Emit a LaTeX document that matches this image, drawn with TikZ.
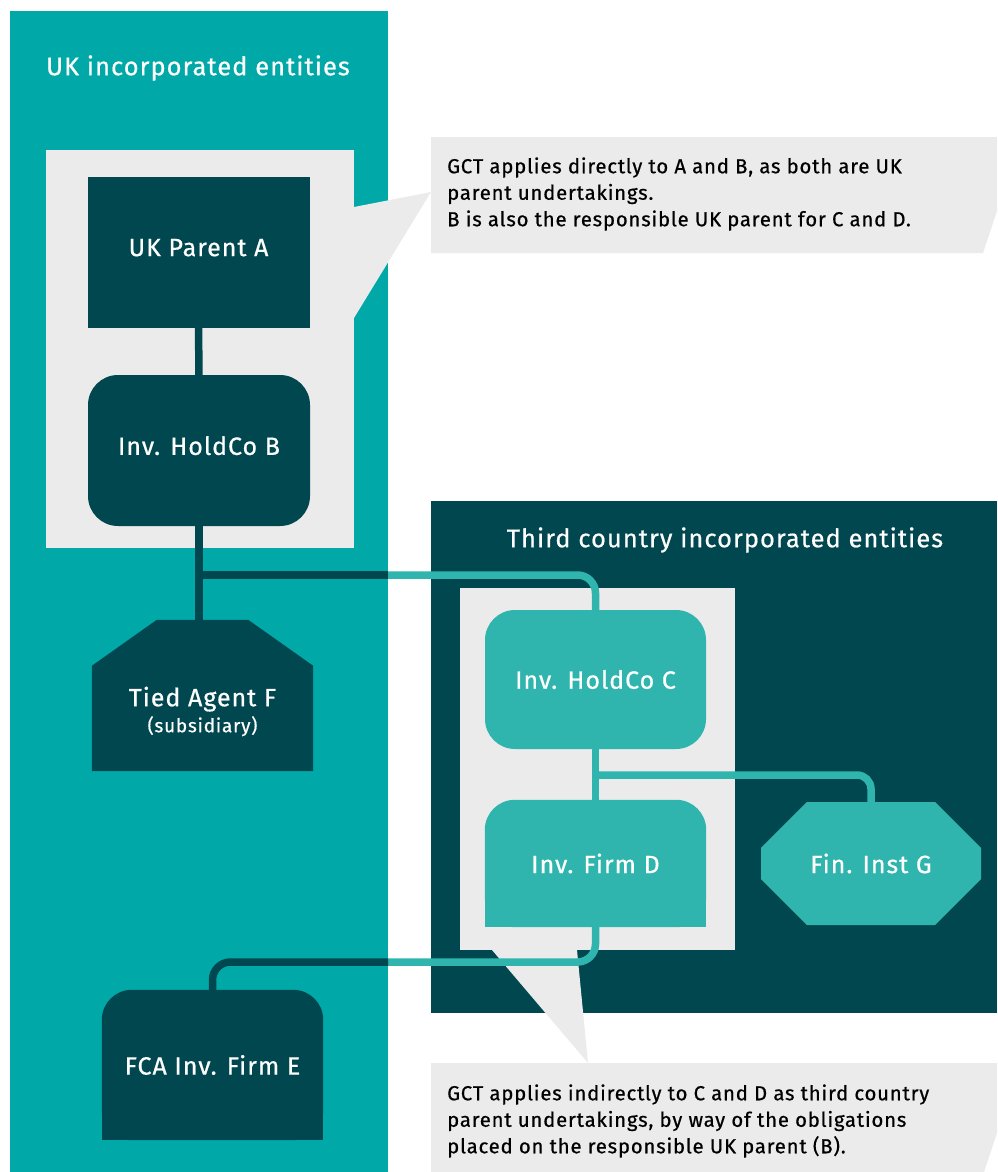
\documentclass[tikz,border=0pt]{standalone}
\usepackage{fontspec}
\setmainfont{Fira Sans}
\newfontfamily\fcafont{Fira Sans}[LetterSpace=4, FakeBold=0.6]
\usetikzlibrary{positioning}
\usetikzlibrary{shapes.misc}

\definecolor{ukteal}{HTML}{00A8A8}
\definecolor{fcadark}{HTML}{00474F}
\definecolor{lightteal}{HTML}{2FB5AE}
\definecolor{boxgrey}{HTML}{EBEBEB}

\pgfdeclarelayer{panels}
\pgfdeclarelayer{shapes}
\pgfsetlayers{panels,shapes,main}

\tikzset{
    entity/.style={minimum width=222pt, minimum height=151pt, inner sep=0pt,
        text=white, font=\fcafont\fontsize{25}{29}\selectfont},
    heading/.style={text=white, font=\fcafont\fontsize{25.5}{30}\selectfont},
    note/.style={text=black, align=left, inner sep=0pt,
        font=\fcafont\fontsize{20.3}{26.5}\selectfont},
    link/.style={line width=7.5pt},
}

\begin{document}
\begin{tikzpicture}[x=1pt, y=-1pt]
    \useasboundingbox (0,0) rectangle (997,1172);

    % backgrounds and callouts
    \begin{pgfonlayer}{panels}
        \fill[ukteal] (10,11) rectangle (388,1172);
        \fill[fcadark] (431,501) rectangle (997,1013);
        \fill[boxgrey] (46,150) rectangle (354,548);
        \fill[boxgrey] (460,588) rectangle (735,950);
        \fill[boxgrey] (431,137) -- (997,137) -- (997,211) -- (983,253) -- (431,253) -- cycle;
        \fill[boxgrey] (431,192) -- (354,207) -- (354,318) -- cycle;
        \fill[boxgrey] (492,950) -- (577,950) -- (588,1063) -- cycle;
        \fill[boxgrey] (431,1063) -- (997,1063) -- (997,1133) -- (984,1172) -- (431,1172) -- cycle;
    \end{pgfonlayer}

    \node[heading] (uktitle) at (198,68) {UK incorporated entities};
    \node[heading] (tctitle) at (725,540) {Third country incorporated entities};

    \node[note, anchor=west] (notedirect) at (447,194)
        {GCT applies directly to A and B, as both are UK\\
         parent undertakings.\\
         B is also the responsible UK parent for C and D.};
    \node[note, anchor=west] (noteindirect) at (447,1121)
        {GCT applies indirectly to C and D as third country\\
         parent undertakings, by way of the obligations\\
         placed on the responsible UK parent (B).};

    % entities
    \node[entity, fill=fcadark, text depth=10pt] (A) at (198.5,252.5) {UK Parent A};
    \node[entity, fill=fcadark, rounded corners=30pt, text depth=10pt] (B) at (199,450.5) {Inv. HoldCo B};
    \node[entity, minimum width=221pt] (F) at (202.5,695.5) {};
    \node[entity, align=center] (Ftext) at ([yshift=-16pt]F.center)
        {Tied Agent F\\[-3pt]{\fontsize{19}{22}\selectfont (subsidiary)}};
    \node[entity, minimum width=221pt, minimum height=150pt] (E) at (212.5,1065) {FCA Inv. Firm E};
    \node[entity, fill=lightteal, rounded corners=30pt,
          minimum width=221pt, minimum height=139pt] (C) at (595.5,679.5) {Inv. HoldCo C};
    \node[entity, minimum width=221pt, minimum height=127pt] (D) at (595.5,863.5) {Inv. Firm D};
    \node[entity, fill=lightteal, chamfered rectangle,
          chamfered rectangle xsep=63pt, chamfered rectangle ysep=36pt,
          minimum width=220pt, minimum height=123pt] (G) at (871,863.5) {Fin. Inst G};

    % shaped boxes
    \begin{pgfonlayer}{shapes}
        \fill[fcadark] (F.south west) -- ([yshift=-46pt]F.north west)
            -- ([xshift=65pt]F.north west) -- ([xshift=-65pt]F.north east)
            -- ([yshift=-46pt]F.north east) -- (F.south east) -- cycle;
        \fill[lightteal, rounded corners=30pt] (D.south west) rectangle (D.north east);
        \fill[lightteal] (D.south west) rectangle (D.east);
        \fill[fcadark, rounded corners=30pt] (E.south west) rectangle (E.north east);
        \fill[fcadark] (E.south west) rectangle (E.east);
    \end{pgfonlayer}

    % ownership lines
    \coordinate (split) at (B.south |- 0,575);
    \coordinate (ukedge) at (388,575);
    \coordinate (splitCD) at (C.south |- 0,775);
    \coordinate (ukedgelow) at (388,962);

    \draw[link, fcadark] (A) -- (B);
    \draw[link, fcadark] (B.south) -- (B.south |- F.north);
    \draw[link, fcadark] (split) -- (ukedge);
    \draw[link, lightteal, rounded corners=18pt] (ukedge) -| (C.north);
    \draw[link, lightteal] (C) -- (D);
    \draw[link, lightteal, rounded corners=14pt] (splitCD) -| (G.north);
    \draw[link, lightteal, rounded corners=18pt] (D.south) |- (ukedgelow);
    \draw[link, fcadark, rounded corners=18pt] (ukedgelow) -| (E.north);
\end{tikzpicture}
\end{document}
